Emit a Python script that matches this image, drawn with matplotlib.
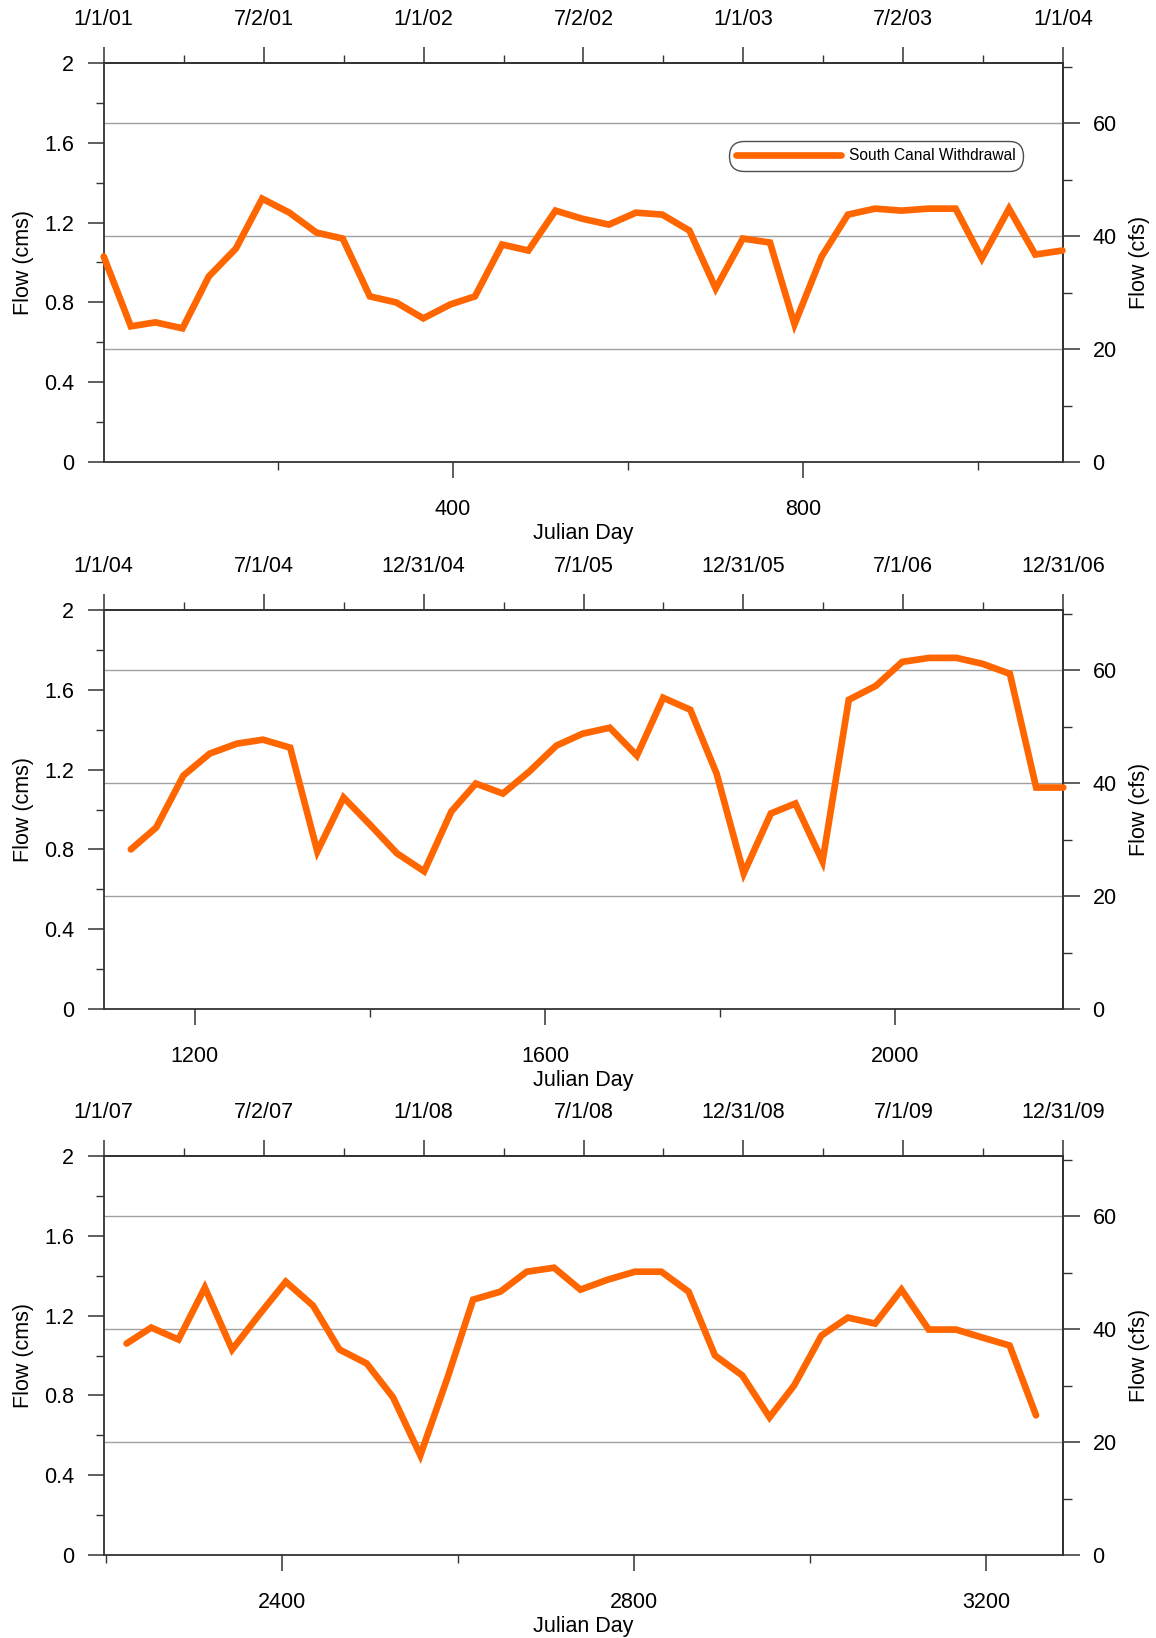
import matplotlib
matplotlib.use("Agg")
import matplotlib.pyplot as plt
from matplotlib.ticker import MultipleLocator, FixedLocator
import numpy as np
import pandas as pd

plt.rcParams["font.family"] = ["Liberation Sans", "DejaVu Sans"]

CFS_PER_CMS = 35.3147
ORIGIN = pd.Timestamp("2000-12-31")  # Julian day 1 = 1/1/01

# Monthly South Canal withdrawal (cms), first day of each month
p1_start, p1_end = "2001-01-01", "2004-01-01"
p1_flow = [1.03, 0.68, 0.70, 0.67, 0.93, 1.07, 1.32, 1.25, 1.15, 1.12,
           0.83, 0.80, 0.72, 0.79, 0.83, 1.09, 1.06, 1.26, 1.22, 1.19,
           1.25, 1.24, 1.16, 0.87, 1.12, 1.10, 0.69, 1.03, 1.24, 1.27,
           1.26, 1.27, 1.27, 1.02, 1.27, 1.04, 1.06]

p2_start, p2_end = "2004-02-01", "2007-01-01"
p2_flow = [0.80, 0.91, 1.17, 1.28, 1.33, 1.35, 1.31, 0.79, 1.06, 0.92,
           0.78, 0.69, 0.99, 1.13, 1.08, 1.19, 1.32, 1.38, 1.41, 1.27,
           1.56, 1.50, 1.18, 0.68, 0.98, 1.03, 0.74, 1.55, 1.62, 1.74,
           1.76, 1.76, 1.73, 1.68, 1.11, 1.11]

p3_start, p3_end = "2007-02-01", "2009-12-01"
p3_flow = [1.06, 1.14, 1.08, 1.34, 1.03, 1.20, 1.37, 1.25, 1.03, 0.96,
           0.79, 0.50, 0.89, 1.28, 1.32, 1.42, 1.44, 1.33, 1.38, 1.42,
           1.42, 1.32, 1.00, 0.90, 0.69, 0.85, 1.10, 1.19, 1.16, 1.33,
           1.13, 1.13, 1.09, 1.05, 0.70]

p1_dates = ["1/1/01", "7/2/01", "1/1/02", "7/2/02", "1/1/03", "7/2/03", "1/1/04"]
p2_dates = ["1/1/04", "7/1/04", "12/31/04", "7/1/05", "12/31/05", "7/1/06", "12/31/06"]
p3_dates = ["1/1/07", "7/2/07", "1/1/08", "7/1/08", "12/31/08", "7/1/09", "12/31/09"]

panels = [
    dict(start=p1_start, end=p1_end, flow=p1_flow, dates=p1_dates,
         xlim=(1, 1097), legend=True),
    dict(start=p2_start, end=p2_end, flow=p2_flow, dates=p2_dates,
         xlim=(1096, 2192), legend=False),
    dict(start=p3_start, end=p3_end, flow=p3_flow, dates=p3_dates,
         xlim=(2197, 3288), legend=False),
]

W, H = 1156, 1638
fig = plt.figure(figsize=(W / 100, H / 100), dpi=100)

ORANGE = "#FF6600"
SPINE = "#333333"
GRID = "#a0a0a0"
FS = 15.5

left_px, right_px = 103.7, 1063.3
tops = [63, 610, 1156]
ax_h = 399

for p, top in zip(panels, tops):
    rect = [left_px / W, 1 - (top + ax_h) / H, (right_px - left_px) / W, ax_h / H]
    ax = fig.add_axes(rect)
    days = (pd.date_range(p["start"], p["end"], freq="MS") - ORIGIN).days.values
    ax.plot(days, p["flow"], color=ORANGE, lw=4.8, solid_joinstyle="miter",
            solid_capstyle="round", label="South Canal Withdrawal", zorder=3,
            clip_on=False)
    ax.set_xlim(*p["xlim"])
    ax.set_ylim(0, 2)

    # horizontal reference lines at 20/40/60 cfs
    for cfs in (20, 40, 60):
        ax.axhline(cfs / CFS_PER_CMS, color=GRID, lw=1.0, zorder=1)

    for s in ax.spines.values():
        s.set_color(SPINE)
        s.set_linewidth(1.3)

    # left axis: cms
    yt = np.round(np.arange(0, 2.01, 0.4), 1)
    ax.set_yticks(yt)
    ax.set_yticklabels([f"{v:g}" for v in yt])
    ax.yaxis.set_minor_locator(MultipleLocator(0.2))
    ax.tick_params(axis="y", which="major", direction="out", length=11.5,
                   width=1.1, color=SPINE, pad=10, labelsize=FS)
    ax.tick_params(axis="y", which="minor", direction="out", length=5.8,
                   width=1.0, color=SPINE)

    # bottom axis: Julian day
    ax.xaxis.set_major_locator(MultipleLocator(400))
    ax.xaxis.set_minor_locator(MultipleLocator(200))
    ax.tick_params(axis="x", which="major", direction="out", length=11.5,
                   width=1.1, color=SPINE, pad=15, labelsize=FS)
    ax.tick_params(axis="x", which="minor", direction="out", length=5.8,
                   width=1.0, color=SPINE)

    ax.text(0.5, -0.18, "Julian Day", transform=ax.transAxes, ha="center",
            va="center", fontsize=FS)
    ax.set_ylabel("Flow (cms)", fontsize=FS, labelpad=7)

    # right axis: cfs
    axr = ax.secondary_yaxis("right", functions=(lambda v: v * CFS_PER_CMS,
                                                 lambda v: v / CFS_PER_CMS))
    axr.yaxis.set_major_locator(FixedLocator([0, 20, 40, 60]))
    axr.yaxis.set_minor_locator(FixedLocator([10, 30, 50, 70]))
    axr.tick_params(axis="y", which="major", direction="out", length=12,
                    width=1.1, color=SPINE, pad=9, labelsize=FS)
    axr.tick_params(axis="y", which="minor", direction="out", length=6.3,
                    width=1.0, color=SPINE)
    axr.spines["right"].set_color(SPINE)
    axr.spines["right"].set_linewidth(1.3)
    axr.set_ylabel("Flow (cfs)", fontsize=FS, labelpad=9)

    # top axis: calendar dates
    axt = ax.secondary_xaxis("top")
    x0, x1 = p["xlim"]
    major_pos = np.linspace(x0, x1, 7)
    minor_pos = (major_pos[:-1] + major_pos[1:]) / 2
    axt.xaxis.set_major_locator(FixedLocator(major_pos))
    axt.xaxis.set_minor_locator(FixedLocator(minor_pos))
    axt.set_xticklabels(p["dates"])
    axt.tick_params(axis="x", which="major", direction="out", length=11.5,
                    width=1.1, color=SPINE, pad=12, labelsize=FS)
    axt.tick_params(axis="x", which="minor", direction="out", length=5.8,
                    width=1.0, color=SPINE)
    axt.spines["top"].set_color(SPINE)
    axt.spines["top"].set_linewidth(1.3)

    if p["legend"]:
        leg = ax.legend(loc="upper left", bbox_to_anchor=(0.6516, 0.805),
                        borderaxespad=0, fontsize=11.2, handlelength=6.7,
                        handletextpad=0.55, borderpad=0.48, frameon=True,
                        fancybox=True)
        fr = leg.get_frame()
        fr.set_edgecolor("#222222")
        fr.set_linewidth(1.0)
        fr.set_boxstyle("round,pad=0,rounding_size=0.95")
        leg.get_lines()[0].set_linewidth(4.8)

fig.savefig("out.png", dpi=100)
